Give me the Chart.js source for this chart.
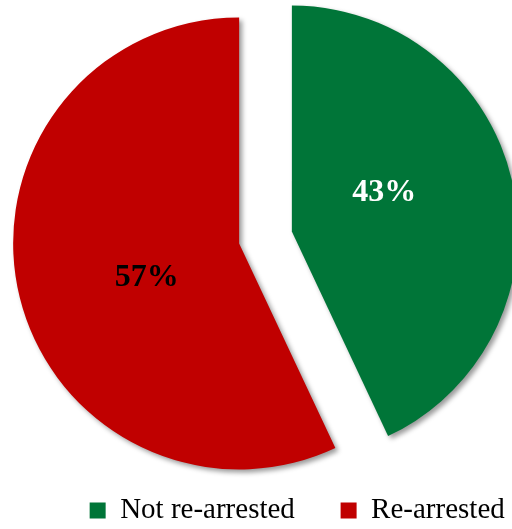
<!DOCTYPE html>
<html>
<head>
<meta charset="utf-8">
<script src="https://cdn.jsdelivr.net/npm/chart.js@4.4.1/dist/chart.umd.min.js"></script>
<style>
  html, body { margin: 0; padding: 0; background: #fff; }
  #wrap { width: 512px; height: 529px; position: relative; }
</style>
</head>
<body>
<div id="wrap"><canvas id="rearrestChart"></canvas></div>
<script>
const categories = ["Not re-arrested", "Re-arrested"];
const shares = [43, 57];
const sliceColors = ["#007538", "#C00000"];
const labelColors = ["#FFFFFF", "#000000"];

const serif = '"Liberation Serif", "Times New Roman", serif';
const labelTurn = 9 * Math.PI / 180;  // labels sit a bit before the slice middle
const labelDepth = 0.44;

// slice pulled straight out along its middle, like an exploded pie in Excel
class ExplodedArc extends Chart.ArcElement {
    draw(ctx) {
        const {x, y, startAngle, endAngle, outerRadius, options} = this;
        const mid = (startAngle + endAngle) / 2;
        const shift = options.offset || 0;
        ctx.save();
        ctx.translate(Math.cos(mid) * shift, Math.sin(mid) * shift);
        ctx.shadowColor = "rgba(0, 0, 0, 0.4)";
        ctx.shadowBlur = 5;
        ctx.shadowOffsetX = 3;
        ctx.shadowOffsetY = 3;
        ctx.beginPath();
        ctx.moveTo(x, y);
        ctx.arc(x, y, outerRadius, startAngle, endAngle);
        ctx.closePath();
        ctx.fillStyle = options.backgroundColor;
        ctx.fill();
        ctx.restore();
    }
}
ExplodedArc.id = "explodedArc";

class ExplodedPie extends Chart.PieController {}
ExplodedPie.id = "explodedPie";
ExplodedPie.defaults = { dataElementType: "explodedArc" };

Chart.register(ExplodedArc, ExplodedPie);

const sliceLabels = {
    id: "sliceLabels",
    afterDatasetsDraw(chart) {
        const ctx = chart.ctx;
        const meta = chart.getDatasetMeta(0);
        ctx.save();
        ctx.font = "bold 32px " + serif;
        ctx.textAlign = "center";
        ctx.textBaseline = "middle";
        meta.data.forEach((arc, i) => {
            const {x, y, startAngle, endAngle, outerRadius, options} = arc;
            const mid = (startAngle + endAngle) / 2;
            const shift = options.offset || 0;
            const a = mid - labelTurn;
            const r = outerRadius * labelDepth;
            const lx = x + Math.cos(mid) * shift + Math.cos(a) * r;
            const ly = y + Math.sin(mid) * shift + Math.sin(a) * r - 2;
            ctx.fillStyle = labelColors[i];
            ctx.fillText(shares[i] + "%", lx, ly);
        });
        ctx.restore();
    }
};

new Chart(document.getElementById("rearrestChart"), {
    type: "explodedPie",
    data: {
        labels: categories,
        datasets: [{
            data: shares,
            backgroundColor: sliceColors,
            borderWidth: 0,
            offset: 27,
            radius: 226
        }]
    },
    options: {
        responsive: true,
        maintainAspectRatio: false,
        animation: false,
        events: [],
        layout: { padding: { left: 19, right: -38.5, top: 24.75, bottom: -6 } },
        plugins: {
            tooltip: { enabled: false },
            legend: {
                position: "bottom",
                align: "end",
                labels: {
                    color: "#000",
                    font: { family: serif, size: 29 },
                    boxWidth: 16,
                    boxHeight: 16,
                    padding: 45.75
                }
            }
        }
    },
    plugins: [sliceLabels]
});
</script>
</body>
</html>
